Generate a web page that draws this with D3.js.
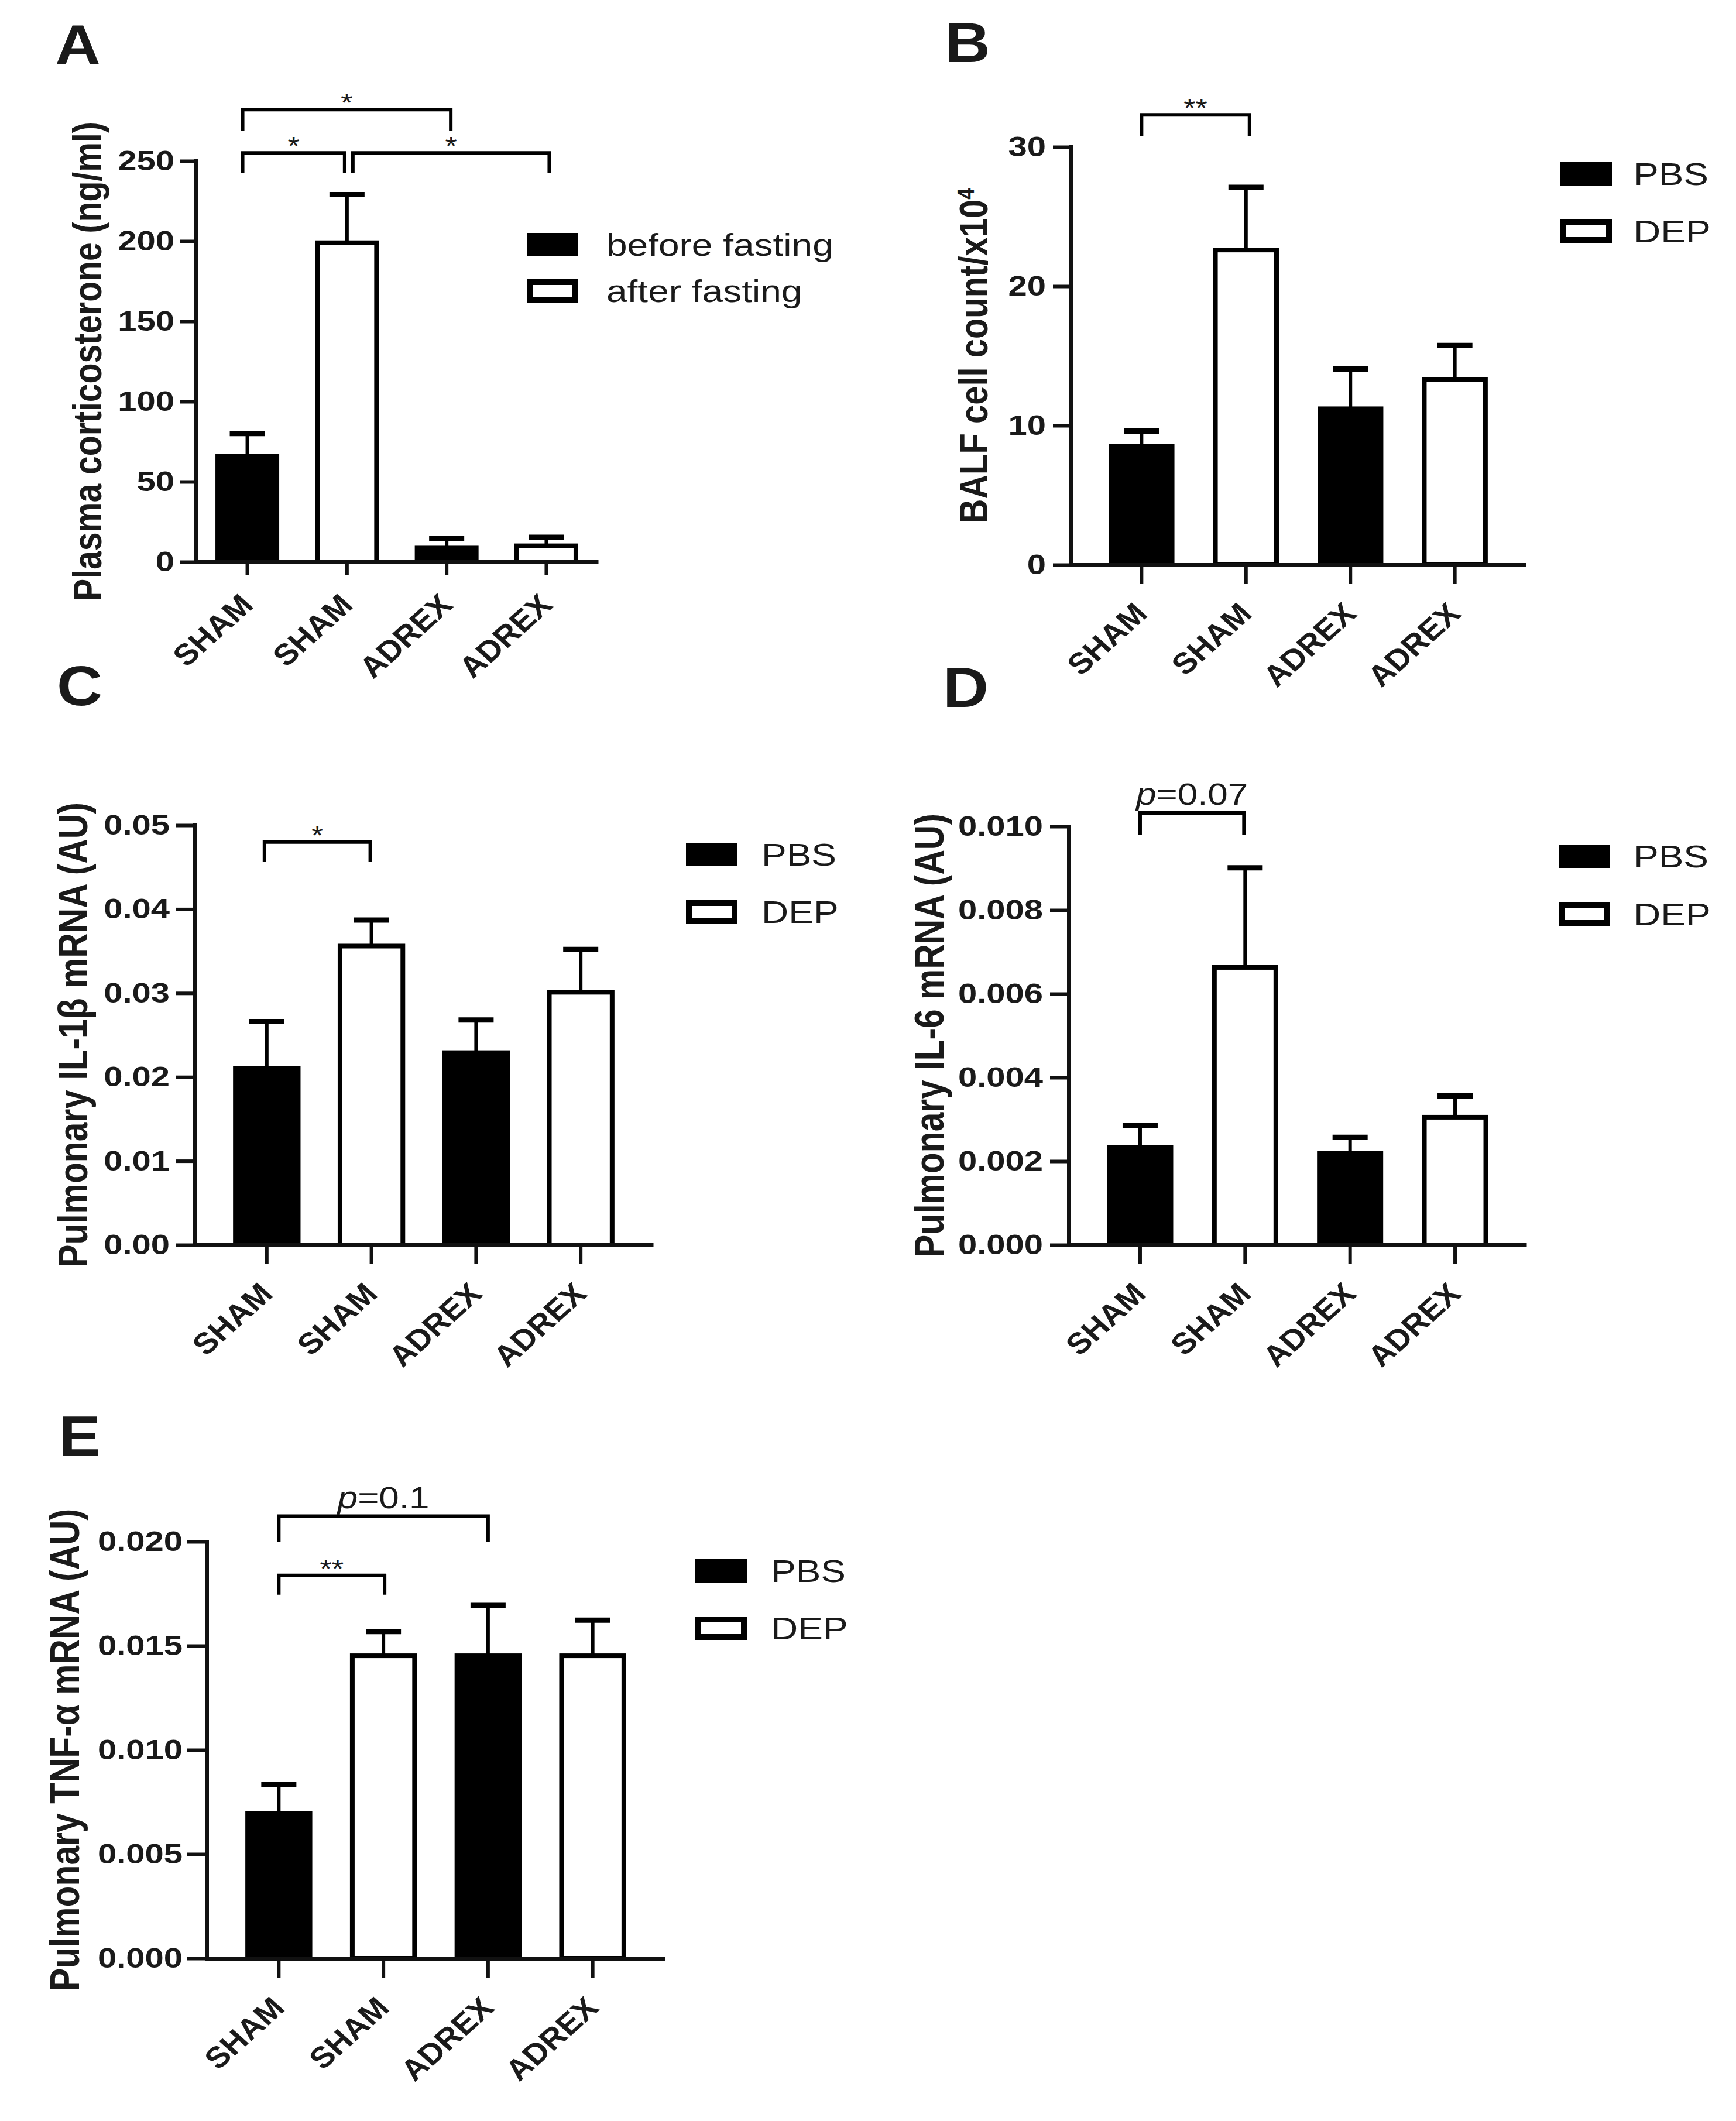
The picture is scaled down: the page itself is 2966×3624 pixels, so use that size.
<!DOCTYPE html>
<html>
<head>
<meta charset="utf-8">
<script src="https://cdn.jsdelivr.net/npm/d3@7"></script>
<style>
  body { margin: 0; background: #fff; }
  text { font-family: "Liberation Sans", Arial, sans-serif; fill: #1a1a1a; }
</style>
</head>
<body>
<div id="fig"></div>
<script>
// groups on the x axis (same for all five panels)
const groups = ["SHAM", "SHAM", "ADREX", "ADREX"];
const fastingTreat = ["before fasting", "after fasting", "before fasting", "after fasting"];
const exposure = ["PBS", "DEP", "PBS", "DEP"];

// A: plasma corticosterone (ng/ml)
const corticoMean = [66, 199, 8.6, 10];
const corticoSem = [14, 30, 5.9, 5.3];
const corticoTicks = [0, 50, 100, 150, 200, 250];

// B: BALF cell count /x10^4
const balfMean = [8.5, 22.6, 11.2, 13.3];
const balfSem = [1.1, 4.5, 2.85, 2.45];
const balfTicks = [0, 10, 20, 30];

// C: IL-1b mRNA
const il1bMean = [0.021, 0.0356, 0.0229, 0.0301];
const il1bSem = [0.0056, 0.0031, 0.0039, 0.0051];
const il1bTicks = [0, 0.01, 0.02, 0.03, 0.04, 0.05];

// D: IL-6 mRNA
const il6Mean = [0.00233, 0.00663, 0.00219, 0.00305];
const il6Sem = [0.00053, 0.00238, 0.00038, 0.00051];
const il6Ticks = [0, 0.002, 0.004, 0.006, 0.008, 0.010];

// E: TNF-a mRNA
const tnfMean = [0.00696, 0.01452, 0.01452, 0.01452];
const tnfSem = [0.0014, 0.00116, 0.00242, 0.00171];
const tnfTicks = [0, 0.005, 0.010, 0.015, 0.020];

// significance brackets: bar indices, bracket top and leg end (data units), label
const corticoSig = [
  { a: 0, b: 1, top: 255, leg: 242.5, label: "*" },
  { a: 1, b: 3, top: 255, leg: 242.5, label: "*" },
  { a: 0, b: 2, top: 282, leg: 269, label: "*" }
];
const balfSig = [{ a: 0, b: 1, top: 32.3, leg: 30.8, label: "**" }];
const il1bSig = [{ a: 0, b: 1, top: 0.048, leg: 0.0456, label: "*" }];
const il6Sig = [{ a: 0, b: 1, top: 0.01032, leg: 0.0098, label: "p=0.07" }];
const tnfSig = [
  { a: 0, b: 1, top: 0.01838, leg: 0.01745, label: "**" },
  { a: 0, b: 2, top: 0.02122, leg: 0.0200, label: "p=0.1" }
];

const W = 2966, H = 3624;
const ink = "#111";
const sq = 0.84; // the source figure is squashed vertically, text included

const svg = d3.select("#fig").append("svg")
  .attr("width", W).attr("height", H)
  .attr("viewBox", `0 0 ${W} ${H}`);

const panels = [
  { letter: "A", lx: 94, ly: 110,
    axisX: 334, yTop: 275, y0: 960, xEnd: 1022, pi: 0.36, po: 0.2,
    max: 250, ticks: corticoTicks, fmt: d3.format("d"), tickLen: 26, tickPad: 10, xTickLen: 22,
    mean: corticoMean, sem: corticoSem, treat: fastingTreat,
    legend: ["before fasting", "after fasting"], legX: 900, legY: 418, legStep: 79, legTextX: 1036,
    title: ["Plasma corticosterone (ng/ml)"], titleX: 149, titleSize: 68,
    sig: corticoSig, nudge: [[-8, -4], [10, 5], [-8, 7]] },
  { letter: "B", lx: 1614, ly: 106,
    axisX: 1829, yTop: 251, y0: 965, xEnd: 2607, pi: 0.37, po: 0.365,
    max: 30, ticks: balfTicks, fmt: d3.format("d"), tickLen: 30, tickPad: 12, xTickLen: 32,
    mean: balfMean, sem: balfSem, treat: exposure,
    legend: ["PBS", "DEP"], legX: 2666, legY: 297, legStep: 98, legTextX: 2791,
    title: ["BALF cell count/x10", "4"], titleX: 1663, titleSize: 69,
    sig: balfSig, nudge: [[0, 6]] },
  { letter: "C", lx: 97, ly: 1205,
    axisX: 332, yTop: 1410, y0: 2127, xEnd: 1116, pi: 0.355, po: 0.37,
    max: 0.05, ticks: il1bTicks, fmt: d3.format(".2f"), tickLen: 32, tickPad: 10, xTickLen: 32,
    mean: il1bMean, sem: il1bSem, treat: exposure,
    legend: ["PBS", "DEP"], legX: 1172, legY: 1460, legStep: 98, legTextX: 1301,
    title: ["Pulmonary IL-1β mRNA (AU)"], titleX: 124, titleSize: 70,
    sig: il1bSig, nudge: [[-4, -2]] },
  { letter: "D", lx: 1611, ly: 1208,
    axisX: 1826, yTop: 1412, y0: 2127, xEnd: 2608, pi: 0.37, po: 0.365,
    max: 0.010, ticks: il6Ticks, fmt: d3.format(".3f"), tickLen: 32, tickPad: 12, xTickLen: 32,
    mean: il6Mean, sem: il6Sem, treat: exposure,
    legend: ["PBS", "DEP"], legX: 2663, legY: 1463, legStep: 99, legTextX: 2791,
    title: ["Pulmonary IL-6 mRNA (AU)"], titleX: 1587, titleSize: 70,
    sig: il6Sig, nudge: [[0, -2]] },
  { letter: "E", lx: 100, ly: 2487,
    axisX: 353, yTop: 2634, y0: 3346, xEnd: 1136, pi: 0.36, po: 0.37,
    max: 0.020, ticks: tnfTicks, fmt: d3.format(".3f"), tickLen: 33, tickPad: 8, xTickLen: 33,
    mean: tnfMean, sem: tnfSem, treat: exposure,
    legend: ["PBS", "DEP"], legX: 1188, legY: 2684, legStep: 98, legTextX: 1317,
    title: ["Pulmonary TNF-α mRNA (AU)"], titleX: 110, titleSize: 70,
    sig: tnfSig, nudge: [[0, 2], [0, 0]] }
];

function drawPanel(p) {
  const g = svg.append("g").attr("class", "panel");

  const x = d3.scaleBand()
    .domain(d3.range(groups.length))
    .range([p.axisX, p.xEnd])
    .paddingInner(p.pi)
    .paddingOuter(p.po);
  const y = d3.scaleLinear().domain([0, p.max]).range([p.y0, p.yTop]);
  const cx = (i) => x(i) + x.bandwidth() / 2;
  const isFirst = (i) => p.treat[i] === p.legend[0];

  // panel letter
  g.append("text")
    .attr("transform", `translate(${p.lx},${p.ly}) scale(1,0.9)`)
    .attr("font-size", 108).attr("font-weight", "bold")
    .text(p.letter);

  // bars
  g.selectAll("rect.bar")
    .data(p.mean)
    .join("rect")
    .attr("class", "bar")
    .attr("x", (d, i) => x(i) + 4)
    .attr("width", x.bandwidth() - 8)
    .attr("y", (d) => y(d))
    .attr("height", (d) => p.y0 - y(d))
    .attr("fill", (d, i) => (isFirst(i) ? "#000" : "#fff"))
    .attr("stroke", "#000")
    .attr("stroke-width", 8);

  // error bars (upper only)
  const err = g.append("g").attr("stroke", "#000");
  err.selectAll("line.stem")
    .data(p.mean)
    .join("line")
    .attr("x1", (d, i) => cx(i)).attr("x2", (d, i) => cx(i))
    .attr("y1", (d) => y(d)).attr("y2", (d, i) => y(d + p.sem[i]))
    .attr("stroke-width", 6);
  err.selectAll("line.cap")
    .data(p.mean)
    .join("line")
    .attr("x1", (d, i) => cx(i) - 30).attr("x2", (d, i) => cx(i) + 30)
    .attr("y1", (d, i) => y(d + p.sem[i])).attr("y2", (d, i) => y(d + p.sem[i]))
    .attr("stroke-width", 9);

  // y axis
  const ya = g.append("g")
    .attr("transform", `translate(${p.axisX},0)`)
    .call(d3.axisLeft(y).tickValues(p.ticks).tickFormat(p.fmt)
      .tickSize(p.tickLen).tickSizeOuter(0).tickPadding(p.tickPad));
  ya.attr("font-size", 58).attr("font-weight", "bold");
  ya.select(".domain").attr("stroke", ink).attr("stroke-width", 7).attr("stroke-linecap", "square");
  ya.selectAll(".tick line").attr("stroke", ink).attr("stroke-width", 6);
  ya.selectAll(".tick text").attr("fill", "#1a1a1a").attr("transform", `scale(1,${sq})`);

  // x axis
  const xa = g.append("g")
    .attr("transform", `translate(0,${p.y0})`)
    .call(d3.axisBottom(x).tickSize(p.xTickLen).tickSizeOuter(0).tickFormat(""));
  xa.select(".domain").attr("stroke", ink).attr("stroke-width", 7);
  xa.selectAll(".tick line").attr("stroke", ink).attr("stroke-width", 6);

  g.selectAll("text.xl")
    .data(groups)
    .join("text")
    .attr("class", "xl")
    .attr("transform", (d, i) =>
      `translate(${cx(i) - 1},${p.y0 + p.xTickLen + 42}) scale(1,0.9) rotate(-45)`)
    .attr("text-anchor", "end")
    .attr("dy", "0.35em")
    .attr("font-size", 56)
    .attr("font-weight", "bold")
    .text((d) => d);

  // y title
  const t = g.append("text")
    .attr("transform", `translate(${p.titleX},${(p.y0 + p.yTop) / 2}) scale(1,${sq}) rotate(-90)`)
    .attr("text-anchor", "middle")
    .attr("dy", "0.35em")
    .attr("font-size", p.titleSize)
    .attr("font-weight", "bold");
  t.append("tspan").text(p.title[0]);
  if (p.title[1]) {
    t.append("tspan").attr("baseline-shift", "super").attr("font-size", "60%").text(p.title[1]);
  }

  // legend
  p.legend.forEach((name, k) => {
    const cy = p.legY + k * p.legStep;
    g.append("rect")
      .attr("x", p.legX + 5).attr("y", cy - 15)
      .attr("width", 78).attr("height", 30)
      .attr("fill", k === 0 ? "#000" : "#fff")
      .attr("stroke", "#000").attr("stroke-width", 10);
    g.append("text")
      .attr("transform", `translate(${p.legTextX},${cy}) scale(1,${sq})`)
      .attr("dy", "0.36em")
      .attr("font-size", 64)
      .attr("fill", "#222")
      .text(name);
  });

  // significance brackets
  p.sig.forEach((s, k) => {
    const x1 = cx(s.a) + p.nudge[k][0];
    const x2 = cx(s.b) + p.nudge[k][1];
    const yt = y(s.top), yl = y(s.leg);
    g.append("path")
      .attr("d", `M${x1},${yl}V${yt}H${x2}V${yl}`)
      .attr("fill", "none").attr("stroke", "#000").attr("stroke-width", 6);
    if (s.label.startsWith("p")) {
      const lt = g.append("text")
        .attr("transform", `translate(${(x1 + x2) / 2},${yt - 14}) scale(1,${sq})`)
        .attr("text-anchor", "middle")
        .attr("font-size", 62)
        .attr("fill", "#222");
      lt.append("tspan").attr("font-style", "italic").text("p");
      lt.append("tspan").text(s.label.slice(1));
    } else {
      g.append("text")
        .attr("transform", `translate(${(x1 + x2) / 2},${yt + 4}) scale(1,${sq})`)
        .attr("text-anchor", "middle")
        .attr("font-size", 52)
        .attr("fill", "#222")
        .text(s.label);
    }
  });
}

panels.forEach(drawPanel);
</script>
</body>
</html>
